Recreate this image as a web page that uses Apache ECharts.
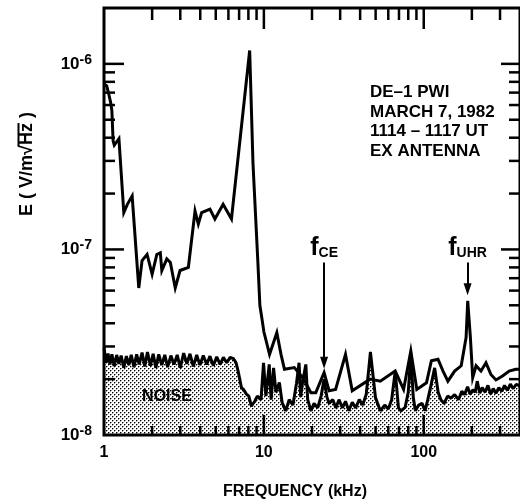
<!DOCTYPE html>
<html>
<head>
<meta charset="utf-8">
<script src="https://cdn.jsdelivr.net/npm/echarts@6/dist/echarts.min.js"></script>
<style>
  html, body { margin: 0; padding: 0; background: #fff; }
  #chart { width: 520px; height: 501px; }
</style>
</head>
<body>
<div id="chart"></div>
<script>
// Electric field spectrum, DE-1 plasma wave instrument (frequency in kHz, E in V/m√Hz)
const signalSpectrum = [
  [1.00, 7.8e-7], [1.04, 7.6e-7], [1.07, 6.9e-7], [1.10, 6.2e-7], [1.12, 5.6e-7],
  [1.14, 3.85e-7], [1.16, 3.65e-7], [1.24, 3.95e-7], [1.33, 1.58e-7], [1.40, 1.75e-7],
  [1.50, 1.94e-7], [1.65, 6.2e-8], [1.73, 8.7e-8], [1.86, 9.4e-8], [2.00, 7.35e-8],
  [2.14, 9.4e-8], [2.25, 9.6e-8], [2.30, 7.7e-8], [2.47, 8.9e-8], [2.60, 8.5e-8],
  [2.79, 6.2e-8], [2.99, 7.7e-8], [3.37, 8.0e-8], [3.71, 1.61e-7], [3.89, 1.37e-7],
  [4.08, 1.58e-7], [4.60, 1.65e-7], [4.94, 1.46e-7], [5.56, 1.75e-7], [6.27, 1.46e-7],
  [8.15, 1.18e-6], [8.55, 2.9e-7], [9.18, 8.4e-8], [9.44, 5.0e-8], [9.70, 4.3e-8],
  [10.0, 3.6e-8], [10.85, 2.72e-8], [12.05, 3.56e-8], [12.8, 2.72e-8], [13.45, 2.26e-8],
  [15.5, 2.31e-8], [17.5, 2.04e-8], [19.7, 1.69e-8], [21.1, 1.69e-8], [23.8, 2.17e-8],
  [25.6, 1.73e-8], [28.1, 1.76e-8], [32.4, 2.72e-8], [35.7, 1.73e-8], [46.2, 2.0e-8],
  [53.5, 1.95e-8], [66.3, 2.21e-8], [74.8, 1.76e-8], [83.0, 2.84e-8], [90.5, 1.76e-8],
  [104, 1.91e-8], [111.6, 2.51e-8], [122.8, 2.56e-8], [132, 2.21e-8], [141.6, 1.95e-8],
  [156, 2.21e-8], [171.5, 2.36e-8], [184, 3.35e-8], [188.4, 5.28e-8], [195.8, 3.35e-8],
  [202.4, 2.04e-8], [212.5, 2.36e-8], [228, 2.21e-8], [245, 2.45e-8], [263, 2.12e-8],
  [283, 1.98e-8], [311, 2.08e-8], [342, 2.21e-8], [376.5, 2.26e-8], [400, 2.26e-8]
];

const noiseLevel = [
  [1.00, 2.95e-8], [1.03, 2.45e-8], [1.06, 2.75e-8], [1.09, 2.40e-8], [1.12, 2.72e-8],
  [1.16, 2.35e-8], [1.20, 2.70e-8], [1.24, 2.42e-8], [1.28, 2.68e-8], [1.33, 2.30e-8],
  [1.38, 2.66e-8], [1.43, 2.38e-8], [1.48, 2.70e-8], [1.54, 2.32e-8], [1.60, 2.72e-8],
  [1.66, 2.40e-8], [1.73, 2.78e-8], [1.80, 2.34e-8], [1.87, 2.80e-8], [1.95, 2.36e-8],
  [2.03, 2.74e-8], [2.11, 2.30e-8], [2.20, 2.72e-8], [2.30, 2.38e-8], [2.40, 2.70e-8],
  [2.50, 2.32e-8], [2.62, 2.68e-8], [2.74, 2.40e-8], [2.87, 2.70e-8], [3.00, 2.30e-8],
  [3.15, 2.76e-8], [3.30, 2.42e-8], [3.45, 2.74e-8], [3.62, 2.34e-8], [3.80, 2.70e-8],
  [3.98, 2.38e-8], [4.18, 2.68e-8], [4.39, 2.40e-8], [4.60, 2.66e-8], [4.83, 2.36e-8],
  [5.07, 2.64e-8], [5.32, 2.40e-8], [5.58, 2.62e-8], [5.86, 2.45e-8], [6.15, 2.62e-8],
  [6.45, 2.58e-8], [6.70, 2.45e-8], [6.90, 2.21e-8], [7.24, 1.80e-8], [7.50, 1.75e-8],
  [7.78, 1.66e-8], [8.05, 1.62e-8], [8.35, 1.43e-8], [8.77, 1.52e-8], [9.10, 1.62e-8],
  [9.60, 1.55e-8], [9.95, 2.45e-8], [10.3, 1.62e-8], [10.8, 2.40e-8], [11.1, 1.55e-8],
  [11.5, 2.30e-8], [11.9, 1.70e-8], [12.5, 1.92e-8], [13.0, 1.50e-8], [13.7, 1.35e-8],
  [14.4, 1.55e-8], [15.2, 1.45e-8], [16.0, 1.90e-8], [16.6, 2.45e-8], [17.0, 1.60e-8],
  [17.5, 1.95e-8], [18.3, 2.40e-8], [18.8, 1.55e-8], [19.7, 1.35e-8], [20.6, 1.48e-8],
  [21.7, 1.40e-8], [22.8, 1.62e-8], [23.8, 2.00e-8], [24.8, 1.60e-8], [25.6, 1.48e-8],
  [27.0, 1.55e-8], [28.2, 1.40e-8], [29.5, 1.55e-8], [31.0, 1.40e-8], [32.4, 1.52e-8],
  [34.0, 1.35e-8], [35.7, 1.50e-8], [37.5, 1.40e-8], [39.5, 1.55e-8], [41.5, 1.45e-8],
  [43.7, 1.66e-8], [46.4, 2.80e-8], [49.9, 1.59e-8], [53.5, 1.35e-8], [57.0, 1.45e-8],
  [60.0, 1.38e-8], [63.0, 1.55e-8], [66.3, 2.21e-8], [69.5, 1.40e-8], [72.0, 1.35e-8],
  [76.5, 1.41e-8], [80.0, 1.70e-8], [83.0, 2.72e-8], [86.0, 1.60e-8], [88.6, 1.35e-8],
  [93.0, 1.45e-8], [97.6, 1.48e-8], [101.8, 1.35e-8], [106, 1.55e-8], [111, 1.85e-8],
  [117, 2.30e-8], [123, 1.70e-8], [128, 1.55e-8], [134, 1.48e-8], [141, 1.62e-8],
  [148, 1.58e-8], [156, 1.65e-8], [165, 1.55e-8], [173, 1.72e-8], [180, 1.65e-8],
  [188, 1.82e-8], [195, 1.66e-8], [203, 1.75e-8], [210, 1.70e-8], [216, 1.95e-8],
  [224, 1.68e-8], [232, 1.80e-8], [242, 1.70e-8], [252, 1.85e-8], [262, 1.66e-8],
  [272, 1.78e-8], [283, 1.68e-8], [295, 1.80e-8], [308, 1.72e-8], [320, 1.85e-8],
  [334, 1.74e-8], [348, 1.88e-8], [362, 1.78e-8], [378, 1.87e-8], [400, 1.85e-8]
];

// Characteristic frequencies marked with arrows
const markerFreqs = [23.8, 188];
const markerNames = ['CE', 'UHR'];
const markerTop = [8.5e-8, 8.5e-8];
const markerTip = [2.45e-8, 6.1e-8];

// Axis ranges and tick positions
const X_MIN = 1, X_MAX = 400;
const Y_MIN = 1e-8, Y_MAX = 2e-6;
const xMajorTicks = [10, 100];
const xMinorTicks = [2, 3, 4, 5, 6, 7, 8, 9, 20, 30, 40, 50, 60, 70, 80, 90, 200, 300];
const yMajorTicks = [1e-7, 1e-6];
const yMinorTicks = [2e-8, 3e-8, 4e-8, 5e-8, 6e-8, 7e-8, 8e-8, 9e-8,
                     2e-7, 3e-7, 4e-7, 5e-7, 6e-7, 7e-7, 8e-7, 9e-7];

const infoLines = ['DE\u20131 PWI', 'MARCH 7, 1982', '1114 \u2013 1117 UT', 'EX ANTENNA'];

const FONT = '"Liberation Sans", Arial, Helvetica, sans-serif';

// Dotted fill for the receiver noise floor
function makeStipple() {
  const c = document.createElement('canvas');
  c.width = 4; c.height = 4;
  const g = c.getContext('2d');
  g.fillStyle = '#fff';
  g.fillRect(0, 0, 4, 4);
  g.fillStyle = '#000';
  g.fillRect(0, 0, 1, 1);
  g.fillRect(2, 2, 1, 1);
  g.fillStyle = '#999';
  g.fillRect(1, 0, 1, 1);
  g.fillRect(0, 1, 1, 1);
  g.fillRect(3, 2, 1, 1);
  g.fillRect(2, 3, 1, 1);
  return c;
}

function xTickItem(params, api) {
  const f = api.value(0);
  const major = api.value(2) === 1;
  const b = api.coord([f, Y_MIN]);
  const t = api.coord([f, Y_MAX]);
  const st = { stroke: '#000', lineWidth: 2.5 };
  return {
    type: 'group',
    children: [
      { type: 'line', shape: { x1: b[0], y1: b[1], x2: b[0], y2: b[1] - (major ? 20 : 9) }, style: st },
      { type: 'line', shape: { x1: t[0], y1: t[1], x2: t[0], y2: t[1] + (major ? 21 : 12) }, style: st }
    ]
  };
}

function yTickItem(params, api) {
  const v = api.value(1);
  const major = api.value(2) === 1;
  const l = api.coord([X_MIN, v]);
  const r = api.coord([X_MAX, v]);
  const st = { stroke: '#000', lineWidth: 2.5 };
  return {
    type: 'group',
    children: [
      { type: 'line', shape: { x1: l[0], y1: l[1], x2: l[0] + (major ? 20 : 11), y2: l[1] }, style: st },
      { type: 'line', shape: { x1: r[0], y1: r[1], x2: r[0] - (major ? 19 : 11), y2: r[1] }, style: st }
    ]
  };
}

// Vertical axis title, with the bar of the square root drawn over "Hz"
const TITLE_FONT = 'bold 18px ' + FONT;
const titleText = 'E ( V/m\u221AHz )';
const measure = document.createElement('canvas').getContext('2d');
measure.font = TITLE_FONT;
const wTitle = measure.measureText(titleText).width;
const wBefore = measure.measureText('E ( V/m\u221A').width;
const wHz = measure.measureText('Hz').width;
const barStart = -wTitle / 2 + wBefore - 1;

const chart = echarts.init(document.getElementById('chart'), null, { renderer: 'canvas' });

const markerData = markerFreqs.map((f, i) => [
  {
    coord: [f, markerTop[i]],
    label: { formatter: '{f|f}{s|' + markerNames[i] + '}' }
  },
  { coord: [f, markerTip[i]] }
]);

chart.setOption({
  animation: false,
  backgroundColor: '#fff',
  grid: {
    left: 104, top: 8, width: 419, height: 427,
    show: true, z: 10,
    borderColor: '#000', borderWidth: 3,
    backgroundColor: 'transparent'
  },
  xAxis: {
    type: 'log', logBase: 10, min: X_MIN, max: X_MAX,
    axisLine: { show: false },
    axisTick: { show: false },
    splitLine: { show: false },
    axisLabel: {
      showMaxLabel: false,
      margin: 10,
      color: '#000',
      fontFamily: FONT, fontWeight: 'bold', fontSize: 16,
      formatter: v => String(Math.round(v))
    }
  },
  yAxis: {
    type: 'log', logBase: 10, min: Y_MIN, max: Y_MAX,
    axisLine: { show: false },
    axisTick: { show: false },
    splitLine: { show: false },
    axisLabel: {
      showMaxLabel: false,
      margin: 12,
      formatter: v => '{b|10}{s|' + Math.round(Math.log10(v)) + '}',
      rich: {
        b: { fontFamily: FONT, fontWeight: 'bold', fontSize: 17, color: '#000', lineHeight: 22 },
        s: { fontFamily: FONT, fontWeight: 'bold', fontSize: 14, color: '#000', lineHeight: 14, verticalAlign: 'top' }
      }
    }
  },
  series: [
    {
      name: 'noise',
      type: 'line',
      data: noiseLevel,
      symbol: 'none',
      z: 2,
      lineStyle: { color: '#000', width: 3 },
      areaStyle: { origin: 'start', color: { image: makeStipple(), repeat: 'repeat' }, opacity: 1 }
    },
    {
      name: 'signal',
      type: 'line',
      data: signalSpectrum,
      symbol: 'none',
      z: 3,
      lineStyle: { color: '#000', width: 3, join: 'miter' },
      markLine: {
        silent: true,
        symbol: ['none', 'triangle'],
        symbolSize: [8, 12],
        lineStyle: { color: '#000', width: 2, type: 'solid' },
        label: {
          show: true,
          position: 'start',
          distance: 2,
          rich: {
            f: { fontFamily: FONT, fontWeight: 'bold', fontSize: 25, color: '#000', lineHeight: 25 },
            s: { fontFamily: FONT, fontWeight: 'bold', fontSize: 14, color: '#000', lineHeight: 14, verticalAlign: 'bottom' }
          }
        },
        data: markerData
      }
    },
    {
      name: 'xticks',
      type: 'custom',
      renderItem: xTickItem,
      z: 11,
      silent: true,
      encode: { x: 0, y: 1 },
      data: xMajorTicks.map(v => [v, Y_MIN, 1]).concat(xMinorTicks.map(v => [v, Y_MIN, 0]))
    },
    {
      name: 'yticks',
      type: 'custom',
      renderItem: yTickItem,
      z: 11,
      silent: true,
      encode: { x: 0, y: 1 },
      data: yMajorTicks.map(v => [X_MIN, v, 1]).concat(yMinorTicks.map(v => [X_MIN, v, 0]))
    }
  ],
  graphic: [
    {
      type: 'text', x: 370, y: 83, z: 20,
      style: {
        text: infoLines.join('\n'),
        font: 'bold 17px ' + FONT,
        lineHeight: 19.5,
        fill: '#000'
      }
    },
    {
      type: 'text', x: 167, y: 397, z: 20,
      style: {
        text: 'NOISE', font: 'bold 16px ' + FONT, fill: '#000',
        textAlign: 'center', textVerticalAlign: 'middle'
      }
    },
    {
      type: 'text', x: 295, y: 492, z: 20,
      style: {
        text: 'FREQUENCY (kHz)', font: 'bold 16px ' + FONT, fill: '#000',
        textAlign: 'center', textVerticalAlign: 'middle'
      }
    },
    {
      type: 'group', x: 27, y: 164, z: 20, rotation: Math.PI / 2,
      children: [
        {
          type: 'text', x: 0, y: 0,
          style: {
            text: titleText, font: TITLE_FONT, fill: '#000',
            textAlign: 'center', textVerticalAlign: 'middle'
          }
        },
        {
          type: 'line',
          shape: { x1: barStart, y1: -8.5, x2: barStart + wHz + 1, y2: -8.5 },
          style: { stroke: '#000', lineWidth: 2 }
        }
      ]
    }
  ]
});
</script>
</body>
</html>
